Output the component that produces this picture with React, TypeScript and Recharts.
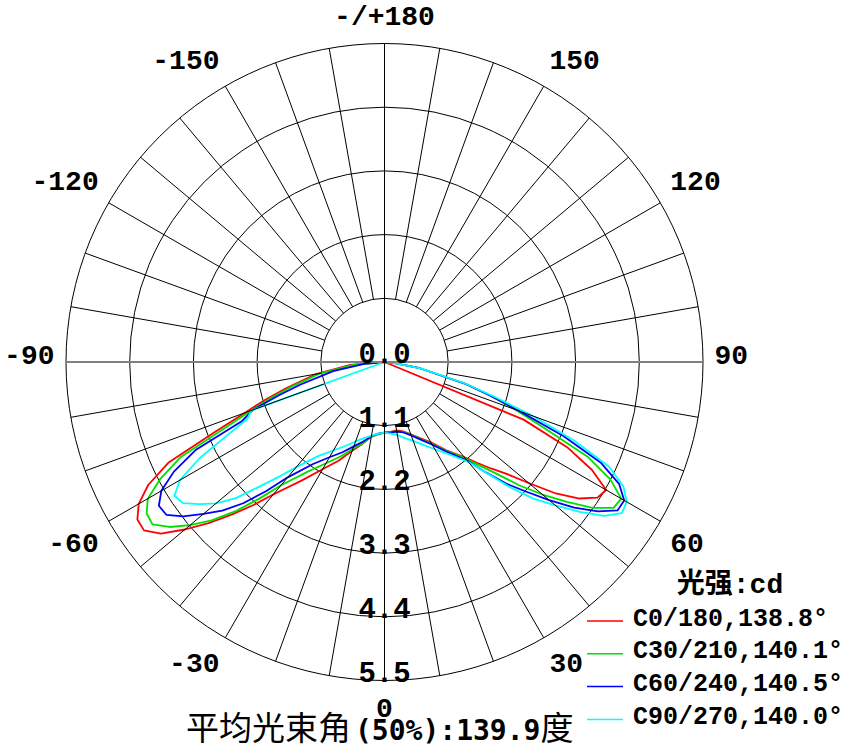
import React from "react";
import { RadarChart, Radar, PolarGrid, PolarAngleAxis, PolarRadiusAxis } from "recharts";

// gamma angles (deg), 0 = straight down, positive to the right
const angles = [
  -90, -85, -80, -75, -72.5, -70, -67.5, -65, -62.5, -60, -57.5, -55, -52.5, -50, -47.5, -45, -42.5, -40,
  -35, -30, -25, -20, -15, -10, -5, 0, 5, 10, 15, 20, 25, 30, 35,
  40, 42.5, 45, 47.5, 50, 52.5, 55, 57.5, 60, 62.5, 65, 67.5, 70, 72.5, 75, 80, 85, 90,
];

const c0 = [
  0, 0.59, 1.2, 1.76, 2.15, 2.57, 3.2, 4.12, 4.6, 4.9, 5.06, 5.07, 4.87, 4.5, 4.12, 3.72, 3.35, 2.98,
  2.5, 2.14, 1.88, 1.63, 1.46, 1.31, 1.25, 1.22, 1.21, 1.2, 1.24, 1.33, 1.45, 1.6, 1.86,
  2.15, 2.36, 2.6, 2.86, 3.25, 3.73, 4.11, 4.36, 4.42, 4.04, 3.48, 2.6, 0, 0, 0, 0, 0, 0,
];
const c30 = [
  0, 0.52, 1.12, 1.68, 2.05, 2.45, 2.99, 3.88, 4.36, 4.72, 4.87, 4.89, 4.68, 4.38, 4.05, 3.65, 3.2, 2.78,
  2.31, 2.02, 1.8, 1.6, 1.45, 1.31, 1.25, 1.22, 1.21, 1.22, 1.25, 1.34, 1.47, 1.63, 1.88,
  2.18, 2.42, 2.72, 3.15, 3.56, 3.97, 4.39, 4.69, 4.72, 4.4, 3.87, 3.0, 2.4, 1.9, 1.45, 0.62, 0.15, 0,
];
const c60 = [
  0, 0.35, 0.9, 1.5, 1.92, 2.42, 2.66, 3.6, 4.1, 4.45, 4.62, 4.6, 4.38, 4.08, 3.8, 3.45, 3.02, 2.6,
  2.15, 1.9, 1.72, 1.55, 1.42, 1.3, 1.24, 1.22, 1.22, 1.22, 1.26, 1.35, 1.48, 1.65, 1.9,
  2.22, 2.58, 2.97, 3.31, 3.71, 4.13, 4.5, 4.77, 4.78, 4.57, 4.13, 3.35, 2.48, 1.9, 1.42, 0.62, 0.15, 0,
];
const c90 = [
  0, 0, 0, 0, 0, 2.45, 2.56, 3.0, 3.6, 4.08, 4.3, 4.25, 4.03, 3.8, 3.48, 3.03, 2.68, 2.37,
  1.98, 1.76, 1.6, 1.46, 1.36, 1.29, 1.24, 1.22, 1.24, 1.28, 1.36, 1.45, 1.58, 1.74, 1.95,
  2.25, 2.58, 3.05, 3.5, 3.85, 4.25, 4.63, 4.86, 4.83, 4.65, 4.28, 3.55, 2.73, 1.98, 1.45, 0.65, 0.15, 0,
];

const seriesKeys = ["c0", "c30", "c60", "c90"];
const seriesNames = ["C0/180,138.8°", "C30/210,140.1°", "C60/240,140.5°", "C90/270,140.0°"];
const seriesColors = ["#ff0000", "#00e000", "#0000ff", "#00ffff"];

const radiusTicks = [0, 1.1, 2.2, 3.3, 4.4, 5.5];
const spokeTicks = Array.from({ length: 36 }, (_, i) => -180 + i * 10);
const legendTitle = "光强:cd";
const titleCjk = "平均光束角";
const titleNum = "(50%):139.9";
const titleEnd = "度";

const data = angles.map((a, i) => ({ angle: a, c0: c0[i], c30: c30[i], c60: c60[i], c90: c90[i] }));

const CX = 384.5;
const CY = 362;
const R = 318.5; // radius of the 5.5 ring
const R_IN = R / 5;
// the radius axis runs 0..6, so the 5.5 ring sits at R
const AXIS_MAX = 6;
const R_AXIS = (R * AXIS_MAX) / 5.5;
const MONO = "'Liberation Mono', 'DejaVu Sans Mono', monospace";

function AngleTick(props: any) {
  const { x, y, payload } = props;
  const v = payload.value;
  const dx = x - CX;
  const dy = y - CY;
  const len = Math.sqrt(dx * dx + dy * dy) || 1;
  const ux = dx / len;
  const uy = dy / len;
  const horiz = v === 90 || v === -90;
  const full = v % 90 === 0;
  const r0 = full ? 0 : R_IN;
  let label = null;
  if (v % 30 === 0) {
    const anchor = ux > 0.01 ? "start" : ux < -0.01 ? "end" : "middle";
    const shift = Math.abs(uy) > 0.01 ? 16 * Math.sign(uy) : -7;
    label = (
      <text
        x={CX + 330 * ux}
        y={CY + 330 * uy + shift + 8.5}
        textAnchor={anchor}
        fontFamily={MONO}
        fontWeight="bold"
        fontSize={28}
        fill="#000"
      >
        {v === -180 ? "-/+180" : String(v)}
      </text>
    );
  }
  return (
    <g>
      <line
        x1={CX + r0 * ux}
        y1={CY + r0 * uy}
        x2={CX + R * ux}
        y2={CY + R * uy}
        stroke={horiz ? "#808080" : "#000"}
        strokeWidth={horiz ? 2 : 1}
      />
      {label}
    </g>
  );
}

function RadiusTick(props: any) {
  const { x, y, payload } = props;
  return (
    <text x={x} y={y + 1} textAnchor="middle" fontFamily={MONO} fontWeight="bold" fontSize={29} fill="#000">
      {Number(payload.value).toFixed(1)}
    </text>
  );
}

function LegendBox() {
  return (
    <svg width={272} height={181} style={{ position: "absolute", left: 580, top: 565 }}>
      <text x={150} y={28} textAnchor="middle" fontFamily={"'Liberation Mono', 'Noto Sans CJK SC'"} fontWeight="bold" fontSize={28}>
        {legendTitle}
      </text>
      {seriesNames.map((n, i) => {
        const ly = 56 + i * 32.8;
        return (
          <g key={n}>
            <line x1={7} x2={43} y1={ly} y2={ly} stroke={seriesColors[i]} strokeWidth={1.5} />
            <text x={53} y={ly + 4.5} fontFamily={MONO} fontWeight="bold" fontSize={25} fill="#000">
              {n}
            </text>
          </g>
        );
      })}
    </svg>
  );
}

export default function App() {
  return (
    <div style={{ position: "absolute", left: 0, top: 0, width: 852, height: 746, background: "#fff", overflow: "hidden" }}>
      <RadarChart
        width={852}
        height={746}
        data={data}
        cx={CX}
        cy={CY}
        outerRadius={R_AXIS}
        innerRadius={0}
        startAngle={90}
        endAngle={450}
        margin={{ top: 0, right: 0, bottom: 0, left: 0 }}
      >
        <PolarGrid
          gridType="circle"
          radialLines={false}
          polarAngles={[]}
          polarRadius={radiusTicks.slice(1).map((t) => (t / 5.5) * R)}
          stroke="#000"
          strokeWidth={1}
        />
        <PolarAngleAxis
          dataKey="angle"
          type="number"
          domain={[-180, 180]}
          ticks={spokeTicks}
          axisLine={false}
          tickLine={false}
          tick={AngleTick}
        />
        <PolarRadiusAxis
          type="number"
          angle={-90}
          domain={[0, AXIS_MAX]}
          ticks={radiusTicks}
          axisLine={false}
          tickLine={false}
          tick={RadiusTick}
        />
        {seriesKeys.map((k, i) => (
          <Radar
            key={k}
            name={seriesNames[i]}
            dataKey={k}
            stroke={seriesColors[i]}
            strokeWidth={1.8}
            strokeLinejoin="round"
            fill="none"
            fillOpacity={0}
            dot={false}
            isAnimationActive={false}
          />
        ))}
      </RadarChart>
      <LegendBox />
      <svg width={852} height={50} style={{ position: "absolute", left: 0, top: 696 }}>
        <text x={186} y={44} fill="#000">
          <tspan fontFamily="'Noto Sans CJK SC'" fontSize={33}>{titleCjk}</tspan>
          <tspan fontFamily="'DejaVu Sans Mono'" fontWeight="bold" fontSize={28} dx={4}>{titleNum}</tspan>
          <tspan fontFamily="'Noto Sans CJK SC'" fontSize={33}>{titleEnd}</tspan>
        </text>
      </svg>
    </div>
  );
}
